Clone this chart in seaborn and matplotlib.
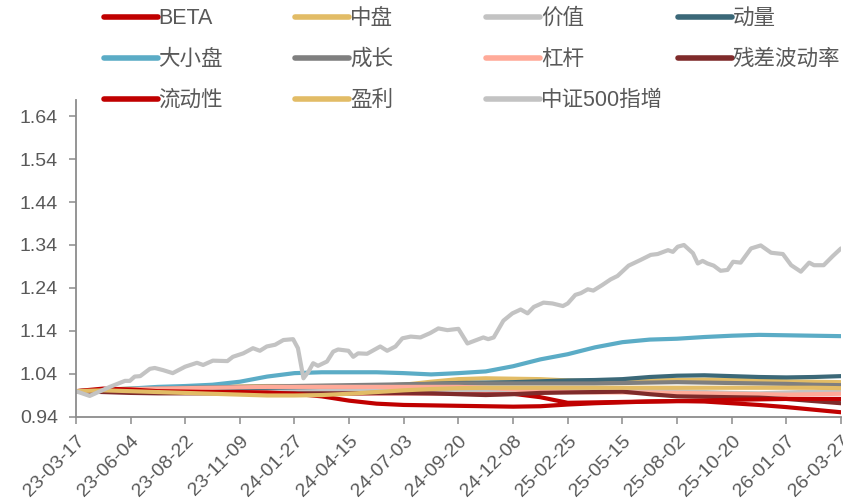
import matplotlib

matplotlib.use("Agg")
import matplotlib.pyplot as plt
from matplotlib.lines import Line2D
import numpy as np
import pandas as pd
import seaborn as sns

start = pd.Timestamp("2023-03-17")
end = pd.Timestamp("2026-03-27")

series_names = ["BETA", "中盘", "价值", "动量", "大小盘", "成长", "杠杆",
                "残差波动率", "流动性", "盈利", "中证500指增"]
series_colors = ["#C00000", "#E2BC66", "#C3C3C3", "#3B6878", "#5BACC6", "#7F7F7F",
                 "#FFAA99", "#7F2B2B", "#C00000", "#E2BC66", "#C3C3C3"]

# factor curves, read on 29 evenly spaced dates
beta = [1.000, 1.002, 1.001, 0.999, 0.998, 0.997, 0.996, 0.996, 0.996, 0.996,
        0.995, 0.995, 0.995, 0.995, 0.995, 0.995, 0.994, 0.986, 0.973, 0.974,
        0.975, 0.976, 0.977, 0.976, 0.972, 0.968, 0.963, 0.957, 0.951]
mid_cap = [1.000, 1.004, 1.006, 1.008, 1.009, 1.010, 1.011, 1.012, 1.012, 1.012,
           1.012, 1.013, 1.015, 1.022, 1.028, 1.030, 1.029, 1.028, 1.025, 1.023,
           1.024, 1.025, 1.026, 1.027, 1.027, 1.025, 1.023, 1.022, 1.021]
value = [1.000, 1.001, 1.002, 1.002, 1.002, 1.002, 1.002, 1.002, 1.002, 1.002,
         1.002, 1.002, 1.002, 1.002, 1.002, 1.002, 1.002, 1.002, 1.002, 1.002,
         1.002, 1.001, 1.000, 0.998, 0.996, 0.995, 0.997, 0.999, 1.001]
momentum = [1.000, 1.001, 1.003, 1.004, 1.005, 1.006, 1.007, 1.008, 1.009, 1.010,
            1.011, 1.013, 1.015, 1.017, 1.019, 1.020, 1.021, 1.023, 1.025, 1.026,
            1.028, 1.033, 1.036, 1.037, 1.035, 1.033, 1.032, 1.033, 1.035]
size = [1.000, 1.003, 1.006, 1.010, 1.012, 1.015, 1.022, 1.034, 1.042, 1.044,
        1.044, 1.044, 1.042, 1.039, 1.042, 1.046, 1.058, 1.074, 1.086, 1.102,
        1.114, 1.120, 1.122, 1.126, 1.129, 1.131, 1.130, 1.129, 1.128]
growth = [1.000, 1.002, 1.004, 1.006, 1.008, 1.009, 1.010, 1.011, 1.012, 1.013,
          1.014, 1.015, 1.016, 1.017, 1.018, 1.018, 1.018, 1.018, 1.018, 1.018,
          1.019, 1.020, 1.021, 1.020, 1.019, 1.018, 1.017, 1.015, 1.014]
leverage = [1.000, 1.003, 1.005, 1.006, 1.007, 1.008, 1.009, 1.010, 1.010, 1.010,
            1.010, 1.010, 1.010, 1.010, 1.010, 1.008, 1.004, 1.000, 0.998, 0.997,
            0.997, 0.997, 0.996, 0.995, 0.994, 0.993, 0.992, 0.993, 0.994]
resid_vol = [1.000, 0.998, 0.996, 0.995, 0.995, 0.995, 0.995, 0.995, 0.995, 0.995,
             0.995, 0.996, 0.996, 0.995, 0.993, 0.991, 0.993, 0.996, 0.997, 0.998,
             0.999, 0.993, 0.988, 0.987, 0.986, 0.985, 0.982, 0.977, 0.972]
liquidity = [1.000, 1.006, 1.004, 1.000, 0.999, 0.998, 0.998, 0.997, 0.994, 0.988,
             0.978, 0.971, 0.968, 0.967, 0.966, 0.965, 0.964, 0.965, 0.969, 0.972,
             0.974, 0.976, 0.977, 0.978, 0.980, 0.981, 0.982, 0.982, 0.982]
profit = [1.000, 1.002, 1.000, 0.998, 0.996, 0.994, 0.992, 0.990, 0.990, 0.991,
          0.994, 0.998, 1.002, 1.005, 1.007, 1.008, 1.008, 1.008, 1.008, 1.008,
          1.008, 1.008, 1.008, 1.008, 1.008, 1.008, 1.008, 1.008, 1.007]

# CSI 500 enhanced index, days since start and value
index_days = [0, 20, 49, 71, 78, 85, 93, 107, 114, 126, 140, 158, 175, 184, 198,
              219, 227, 242, 256, 266, 276, 288, 300, 314, 321, 329, 336, 343, 350,
              363, 372, 379, 394, 401, 408, 421, 440, 450, 462, 472, 484, 498, 512,
              524, 537, 553, 566, 589, 596, 604, 618, 631, 643, 653, 662, 676, 689,
              704, 711, 722, 730, 740, 748, 761, 773, 783, 799, 816, 831, 841, 856,
              863, 870, 879, 892, 899, 906, 913, 922, 932, 942, 950, 961, 976, 990,
              1005, 1022, 1034, 1048, 1060, 1067, 1081, 1094, 1106]
index_vals = [1.000, 0.989, 1.010, 1.024, 1.024, 1.034, 1.035, 1.052, 1.054, 1.049,
              1.042, 1.057, 1.066, 1.061, 1.071, 1.070, 1.080, 1.088, 1.100, 1.094,
              1.104, 1.108, 1.119, 1.121, 1.100, 1.030, 1.045, 1.065, 1.059, 1.069,
              1.092, 1.097, 1.094, 1.080, 1.088, 1.087, 1.104, 1.094, 1.104, 1.123,
              1.127, 1.125, 1.135, 1.146, 1.142, 1.145, 1.111, 1.125, 1.121, 1.125,
              1.164, 1.181, 1.190, 1.181, 1.196, 1.206, 1.204, 1.198, 1.204, 1.224,
              1.228, 1.237, 1.234, 1.247, 1.260, 1.268, 1.292, 1.305, 1.317, 1.319,
              1.328, 1.324, 1.336, 1.340, 1.321, 1.297, 1.303, 1.297, 1.292, 1.280,
              1.282, 1.301, 1.299, 1.332, 1.339, 1.322, 1.319, 1.293, 1.278, 1.299,
              1.293, 1.293, 1.314, 1.332]

y_ticks = [0.94, 1.04, 1.14, 1.24, 1.34, 1.44, 1.54, 1.64]

factor_dates = pd.date_range(start, end, periods=len(beta))
factor_values = [beta, mid_cap, value, momentum, size, growth, leverage,
                 resid_vol, liquidity, profit]

frames = []
for name, vals in zip(series_names[:-1], factor_values):
    frames.append(pd.DataFrame({"date": factor_dates, "value": vals, "series": name}))
frames.append(pd.DataFrame({
    "date": start + pd.to_timedelta(index_days, unit="D"),
    "value": index_vals,
    "series": series_names[-1],
}))
df = pd.concat(frames, ignore_index=True)

sns.set_theme(style="white")
plt.rcParams["font.family"] = ["Liberation Sans", "Noto Sans CJK SC"]
text_color = "#595959"
axis_color = "#8C8C8C"

fig = plt.figure(figsize=(8.43, 5.03), dpi=100)
ax = fig.add_axes([0.090, 0.171, 0.9076, 0.630])

palette = dict(zip(series_names, series_colors))
sns.lineplot(data=df, x="date", y="value", hue="series", hue_order=series_names,
             palette=palette, linewidth=3, estimator=None, errorbar=None,
             legend=False, ax=ax)

ax.set_xlim(start, end)
ax.set_ylim(0.94, 1.677)
ax.set_yticks(y_ticks)
ax.set_yticklabels([f"{t:.2f}" for t in y_ticks])
tick_dates = pd.date_range(start, end, freq="79D")
ax.set_xticks(tick_dates)
ax.set_xticklabels([d.strftime("%y-%m-%d") for d in tick_dates], rotation=45,
                   ha="right", rotation_mode="anchor")
ax.set_xlabel("")
ax.set_ylabel("")

for side in ["top", "right"]:
    ax.spines[side].set_visible(False)
for side in ["left", "bottom"]:
    ax.spines[side].set_color(axis_color)
    ax.spines[side].set_linewidth(1.3)
ax.tick_params(axis="y", which="major", left=True, length=5, width=1.1,
               color=axis_color, labelsize=14, labelcolor=text_color, pad=8)
ax.tick_params(axis="x", which="major", bottom=True, length=5, width=1.1,
               color=axis_color, labelsize=14, labelcolor=text_color, pad=6)

# legend: 4 fixed-width columns, 3 rows
col_x = [0.123, 0.350, 0.577, 0.804]
for c in range(4):
    idx = list(range(c, len(series_names), 4))
    handles = [Line2D([], [], color=series_colors[i], linewidth=4) for i in idx]
    labels = [series_names[i] for i in idx]
    fig.legend(handles, labels, loc="upper left", bbox_to_anchor=(col_x[c], 0.984),
               frameon=False, fontsize=15.5, handlelength=2.5, handletextpad=0.05,
               labelspacing=0.93, borderpad=0, borderaxespad=0,
               labelcolor=text_color)

fig.savefig("out.png", dpi=100)
